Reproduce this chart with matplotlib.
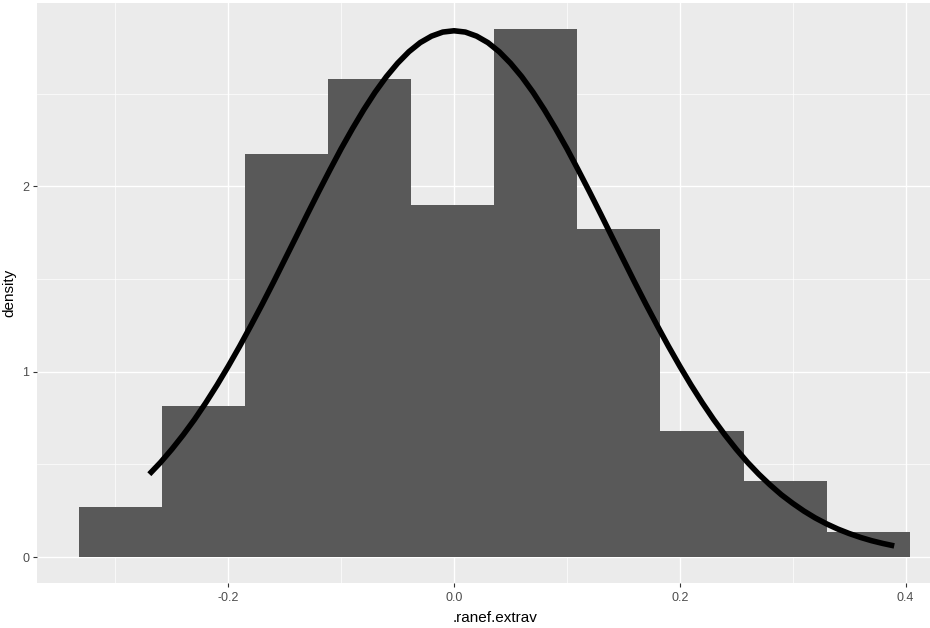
import matplotlib
matplotlib.use("Agg")
import matplotlib.pyplot as plt
from matplotlib.ticker import FixedLocator

# ---- data ----
bin_edges = [-0.3323, -0.2587, -0.1851, -0.1115, -0.0379, 0.0357,
             0.1093, 0.1829, 0.2565, 0.3301, 0.4037]
bin_density = [0.272, 0.815, 2.174, 2.58, 1.90, 2.85, 1.77, 0.68, 0.41, 0.136]

curve_x = [-0.27, -0.26, -0.25, -0.24, -0.23, -0.22, -0.21, -0.20, -0.19,
           -0.18, -0.17, -0.16, -0.15, -0.14, -0.13, -0.12, -0.11, -0.10,
           -0.09, -0.08, -0.07, -0.06, -0.05, -0.04, -0.03, -0.02, -0.01,
           0.0,
           0.01, 0.02, 0.03, 0.04, 0.05, 0.06, 0.07, 0.08, 0.09, 0.10,
           0.11, 0.12, 0.13, 0.14, 0.15, 0.16, 0.17, 0.18, 0.19, 0.20,
           0.21, 0.22, 0.23, 0.24, 0.25, 0.26, 0.27, 0.28, 0.29, 0.30,
           0.31, 0.32, 0.33, 0.34, 0.35, 0.36, 0.37, 0.38, 0.39]
curve_y = [0.447, 0.511, 0.582, 0.659, 0.742, 0.832, 0.928, 1.030, 1.137,
           1.249, 1.364, 1.483, 1.605, 1.727, 1.850, 1.971, 2.089, 2.204,
           2.312, 2.414, 2.508, 2.592, 2.665, 2.727, 2.776, 2.811, 2.833,
           2.840,
           2.833, 2.811, 2.776, 2.727, 2.665, 2.592, 2.508, 2.414, 2.312, 2.204,
           2.089, 1.971, 1.850, 1.727, 1.605, 1.483, 1.364, 1.249, 1.137, 1.030,
           0.928, 0.832, 0.742, 0.659, 0.582, 0.511, 0.447, 0.389, 0.336, 0.290,
           0.248, 0.211, 0.179, 0.151, 0.127, 0.106, 0.088, 0.073, 0.060]

x_major = [-0.2, 0.0, 0.2, 0.4]
x_major_labels = ["-0.2", "0.0", "0.2", "0.4"]
x_minor = [-0.3, -0.1, 0.1, 0.3]
y_major = [0, 1, 2]
y_major_labels = ["0", "1", "2"]
y_minor = [0.5, 1.5, 2.5]

x_title = ".ranef.extrav"
y_title = "density"

# ---- drawing ----
plt.rcParams['font.family'] = ['Liberation Sans', 'DejaVu Sans']
fig = plt.figure(figsize=(9.3, 6.28), dpi=100)
ax = fig.add_axes([0.0403, 0.0710, 0.983, 0.925])
ax.set_facecolor("#EBEBEB")

lefts = bin_edges[:-1]
widths = [b - a for a, b in zip(bin_edges[:-1], bin_edges[1:])]
ax.bar(lefts, bin_density, width=widths, align="edge", color="#595959",
       linewidth=0, zorder=2)
ax.plot(curve_x, curve_y, color="black", lw=4.0, solid_capstyle="butt",
        solid_joinstyle="round", zorder=3)

ax.set_xlim(-0.3691, 0.4409)
ax.set_ylim(-0.1425, 2.9925)

ax.xaxis.set_major_locator(FixedLocator(x_major))
ax.set_xticklabels(x_major_labels)
ax.xaxis.set_minor_locator(FixedLocator(x_minor))
ax.yaxis.set_major_locator(FixedLocator(y_major))
ax.set_yticklabels(y_major_labels)
ax.yaxis.set_minor_locator(FixedLocator(y_minor))

ax.grid(which="major", color="white", linewidth=1.0, zorder=0)
ax.grid(which="minor", color="white", linewidth=0.5, zorder=0)
ax.set_axisbelow(True)

for s in ax.spines.values():
    s.set_visible(False)

ax.tick_params(which="major", length=3, width=0.8, color="#333333",
               labelcolor="#4D4D4D", labelsize=9, pad=3)
ax.tick_params(which="minor", length=0)

ax.set_xlabel(x_title, fontsize=11, color="black", labelpad=5)
ax.set_ylabel(y_title, fontsize=11, color="black", labelpad=4)

fig.savefig("out.png", dpi=100)
